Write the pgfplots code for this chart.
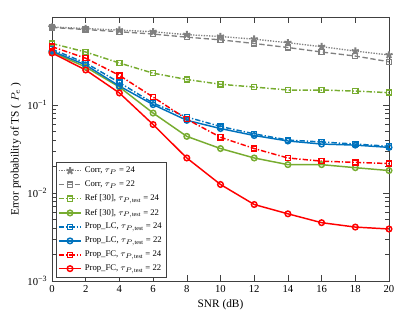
\documentclass[border=0pt]{standalone}
\usepackage{fontspec}
\setmainfont{Liberation Serif}
\usepackage{pgfplots}
\pgfplotsset{compat=1.18}
\usetikzlibrary{plotmarks}
\definecolor{mgray}{RGB}{128,128,128}
\definecolor{mgreen}{RGB}{119,172,48}
\definecolor{mblue}{RGB}{0,114,189}
\definecolor{mred}{RGB}{255,0,0}
\tikzset{
  mdashdot/.style={dash pattern=on 4pt off 1.5pt on 1pt off 1.5pt},
  mdash/.style={dash pattern=on 4pt off 2pt},
}
\begin{document}
\begin{tikzpicture}
\begin{axis}[
  scale only axis,
  width=252.75pt, height=198pt,
  xmin=0, xmax=20, ymode=log, ymin=1e-3, ymax=1,
  xtick={0,2,...,20},
  ytick={1e-3,1e-2,1e-1},
  yticklabels={10\textsuperscript{−3},10\textsuperscript{−2},10\textsuperscript{−1}},
  tick pos=both, tick align=inside,
  axis line style={black!75},
  every tick/.style={black!75},
  tick label style={font=\fontsize{8}{9}\selectfont},
  /pgf/number format/assume math mode=true,
  xlabel={SNR (dB)},
  ylabel={Error probability of TS ( $P_e$ )},
  label style={font=\fontsize{8.5}{9.5}\selectfont},
  xlabel style={yshift=2pt},
  ylabel style={yshift=-2pt},
  legend style={at={(0.012,0.015)}, anchor=south west, font=\fontsize{6.5}{7}\selectfont,
    draw=black!75, row sep=0.6pt, inner sep=1.2pt, legend cell align=left},
  legend image code/.code={
    \draw[mark repeat=2,mark phase=2] plot coordinates {(0cm,0cm) (0.3cm,0cm) (0.6cm,0cm)};},
]
\addplot[mgray, densely dotted, line width=1pt, mark=star, mark size=2.8pt, mark options={solid, line width=1.5pt}]
  coordinates {(0,0.77) (2,0.74) (4,0.71) (6,0.68) (8,0.63) (10,0.60) (12,0.56) (14,0.51) (16,0.46) (18,0.41) (20,0.37)};
\addlegendentry{Corr, $\tau_P$ = 24}
\addplot[mgray, mdash, line width=1pt, mark=square, mark size=1.9pt, mark options={solid}]
  coordinates {(0,0.76) (2,0.72) (4,0.68) (6,0.64) (8,0.59) (10,0.55) (12,0.50) (14,0.45) (16,0.40) (18,0.36) (20,0.31)};
\addlegendentry{Corr, $\tau_P$ = 22}
\addplot[mgreen, mdashdot, line width=1.1pt, mark=square, mark size=1.9pt, mark options={solid}]
  coordinates {(0,0.50) (2,0.40) (4,0.30) (6,0.23) (8,0.195) (10,0.172) (12,0.160) (14,0.148) (16,0.148) (18,0.144) (20,0.138)};
\addlegendentry{Ref [30], $\tau_{P,\mathrm{test}}$ = 24}
\addplot[mgreen, solid, line width=1.1pt, mark=o, mark size=2.1pt]
  coordinates {(0,0.40) (2,0.27) (4,0.16) (6,0.081) (8,0.044) (10,0.032) (12,0.025) (14,0.021) (16,0.021) (18,0.0194) (20,0.018)};
\addlegendentry{Ref [30], $\tau_{P,\mathrm{test}}$ = 22}
\addplot[mblue, mdashdot, line width=1.1pt, mark=square, mark size=1.9pt, mark options={solid}]
  coordinates {(0,0.43) (2,0.30) (4,0.18) (6,0.105) (8,0.073) (10,0.057) (12,0.047) (14,0.040) (16,0.038) (18,0.036) (20,0.034)};
\addlegendentry{Prop\_LC, $\tau_{P,\mathrm{test}}$ = 24}
\addplot[mblue, solid, line width=1.1pt, mark=o, mark size=2.1pt]
  coordinates {(0,0.41) (2,0.285) (4,0.164) (6,0.101) (8,0.067) (10,0.054) (12,0.045) (14,0.039) (16,0.036) (18,0.035) (20,0.033)};
\addlegendentry{Prop\_LC, $\tau_{P,\mathrm{test}}$ = 22}
\addplot[mred, mdashdot, line width=1.1pt, mark=square, mark size=1.9pt, mark options={solid}]
  coordinates {(0,0.46) (2,0.34) (4,0.217) (6,0.123) (8,0.069) (10,0.043) (12,0.032) (14,0.025) (16,0.023) (18,0.0223) (20,0.0216)};
\addlegendentry{Prop\_FC, $\tau_{P,\mathrm{test}}$ = 24}
\addplot[mred, solid, line width=1.1pt, mark=o, mark size=2.1pt]
  coordinates {(0,0.39) (2,0.25) (4,0.137) (6,0.060) (8,0.025) (10,0.0125) (12,0.0074) (14,0.0058) (16,0.0046) (18,0.0041) (20,0.0039)};
\addlegendentry{Prop\_FC, $\tau_{P,\mathrm{test}}$ = 22}
\end{axis}
\path[use as bounding box] (-39pt,-36pt) rectangle (272.25pt,210.75pt);
\end{tikzpicture}
\end{document}
